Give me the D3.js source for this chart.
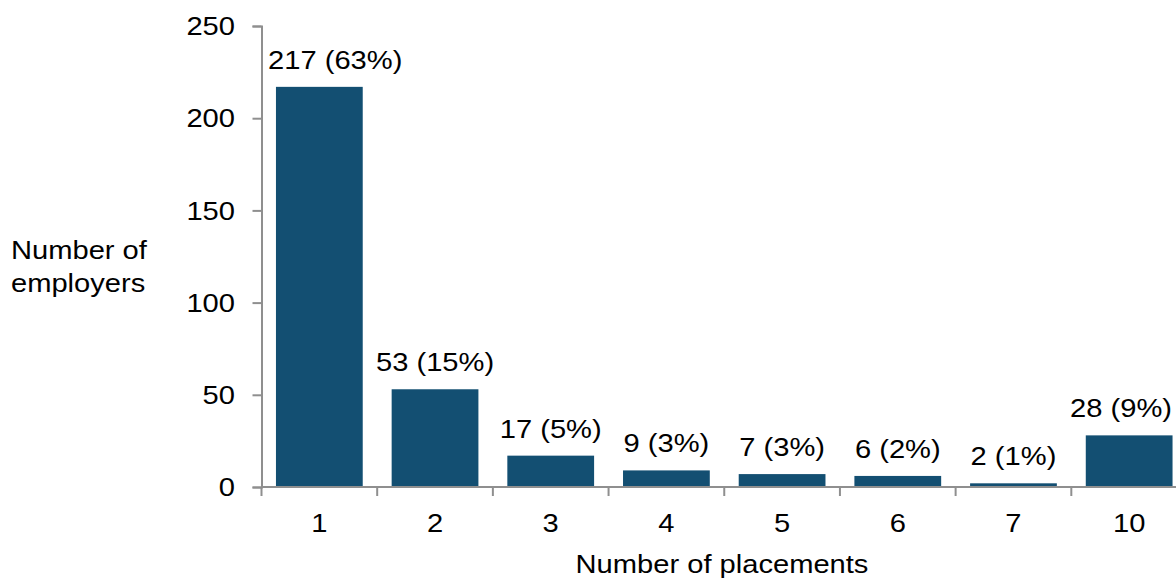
<!DOCTYPE html>
<html>
<head>
<meta charset="utf-8">
<script src="https://cdn.jsdelivr.net/npm/d3@7"></script>
<style>
  body { margin: 0; background: #fff; }
  text { font-family: "Liberation Sans", Arial, sans-serif; fill: #000; font-size: 25px; }
  .axis path, .axis line { stroke: #8f8f8f; stroke-width: 2; }
  .bar { fill: #134f72; }
</style>
</head>
<body>
<svg width="1176" height="579"></svg>
<script>
var placements = ["1", "2", "3", "4", "5", "6", "7", "10"],
    employers = [217, 53, 17, 9, 7, 6, 2, 28],
    shares = ["63%", "15%", "5%", "3%", "3%", "2%", "1%", "9%"],
    yTicks = [0, 50, 100, 150, 200, 250];

var data = placements.map(function(p, i) {
  return {placement: p, count: employers[i], share: shares[i]};
});

var svg = d3.select("svg"),
    margin = {top: 26, right: -11, bottom: 92, left: 261.5},
    width = +svg.attr("width") - margin.left - margin.right,
    height = +svg.attr("height") - margin.top - margin.bottom;

// text in the original is drawn wider than it is tall
var sx = 1.165;
function wide(x, y) { return "translate(" + x + "," + y + ") scale(" + sx + ",1)"; }

var x = d3.scaleBand().range([0, width]).paddingInner(0.25).paddingOuter(0.125),
    y = d3.scaleLinear().domain([0, 250]).range([height, 0]);

x.domain(placements);

var chart = svg.append("g")
    .attr("transform", "translate(" + margin.left + "," + margin.top + ")");

// bars
chart.selectAll(".bar")
    .data(data)
  .enter().append("rect")
    .attr("class", "bar")
    .attr("x", function(d) { return x(d.placement); })
    .attr("width", x.bandwidth())
    .attr("y", function(d) { return y(d.count); })
    .attr("height", function(d) { return height - y(d.count); });

// value labels, nudged to stay clear of the axis and the right edge
chart.selectAll(".value")
    .data(data)
  .enter().append("text")
    .attr("class", "value")
    .attr("text-anchor", "middle")
    .text(function(d) { return d.count + " (" + d.share + ")"; })
    .attr("transform", function(d) {
      var half = this.getComputedTextLength() * sx / 2,
          cx = x(d.placement) + x.bandwidth() / 2;
      cx = Math.max(cx, 6.5 + half);
      cx = Math.min(cx, 1172 - margin.left - half);
      return wide(cx, y(d.count) - 18);
    });

// y-axis
var yAxis = chart.append("g")
    .attr("class", "axis")
    .call(d3.axisLeft(y).tickValues(yTicks).tickSize(9).tickSizeOuter(9).tickPadding(17));
yAxis.selectAll("text")
    .style("font-size", "25px")
    .attr("x", null)
    .attr("dy", "0.35em")
    .attr("transform", wide(-26.5, 0));

// x-axis: ticks at band boundaries
var xAxis = chart.append("g")
    .attr("class", "axis")
    .attr("transform", "translate(0," + height + ")");
xAxis.append("line")
    .attr("x1", 0).attr("x2", width);
xAxis.selectAll(".sep")
    .data(d3.range(placements.length + 1))
  .enter().append("line")
    .attr("x1", function(i) { return i * x.step(); })
    .attr("x2", function(i) { return i * x.step(); })
    .attr("y1", 0)
    .attr("y2", 9);
xAxis.selectAll(".lbl")
    .data(placements)
  .enter().append("text")
    .attr("transform", function(d) { return wide(x(d) + x.bandwidth() / 2, 45); })
    .attr("text-anchor", "middle")
    .text(function(d) { return d; });

// axis titles
svg.append("text")
    .attr("transform", wide(722, 573))
    .attr("text-anchor", "middle")
    .text("Number of placements");

var yTitle = svg.append("text")
    .attr("transform", wide(11, 259));
yTitle.append("tspan").attr("x", 0).text("Number of");
yTitle.append("tspan").attr("x", 0).attr("dy", 33).text("employers");
</script>
</body>
</html>
